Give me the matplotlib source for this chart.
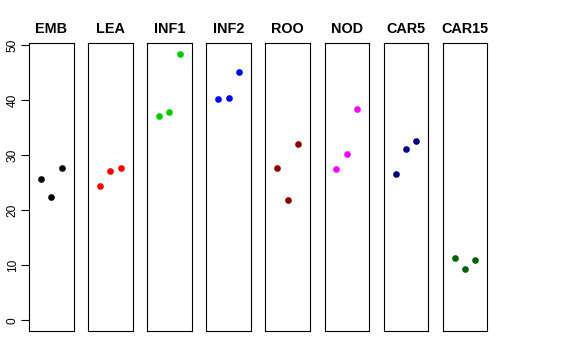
import matplotlib
matplotlib.use("Agg")
import matplotlib.pyplot as plt

tissues = ["EMB", "LEA", "INF1", "INF2", "ROO", "NOD", "CAR5", "CAR15"]
colors = ["#000000", "#FF0000", "#00CD00", "#0000FF", "#8B0000", "#FF00FF", "#000080", "#006400"]
emb = [25.7, 22.5, 27.7]
lea = [24.4, 27.2, 27.7]
inf1 = [37.2, 37.9, 48.5]
inf2 = [40.2, 40.5, 45.1]
roo = [27.7, 21.8, 32.0]
nod = [27.6, 30.2, 38.4]
car5 = [26.7, 31.1, 32.7]
car15 = [11.3, 9.3, 11.0]
series = [emb, lea, inf1, inf2, roo, nod, car5, car15]
reps = [1, 2, 3]
yticks = [0, 10, 20, 30, 40, 50]

plt.rcParams['font.family'] = ['Liberation Sans', 'DejaVu Sans']
W, H = 576, 360
fig = plt.figure(figsize=(W / 100, H / 100), dpi=100)

ymax = max(max(s) for s in series)
pad = 0.04 * ymax
for i, (name, col, vals) in enumerate(zip(tissues, colors, series)):
    left = 29 + 59.1 * i
    ax = fig.add_axes([left / W, (H - 331) / H, 44.5 / W, (331 - 43) / H])
    ax.plot(reps, vals, 'o', color=col, markersize=4.8, markeredgewidth=0)
    ax.set_xlim(-0.16, 4.16)
    ax.set_ylim(-pad, ymax + pad)
    ax.set_xticks([])
    for s in ax.spines.values():
        s.set_linewidth(0.8)
        s.set_color('black')
    ax.set_title(name, fontsize=10.4, fontweight='bold', pad=7)
    if i == 0:
        ax.set_yticks(yticks)
        ax.set_yticklabels([str(t) for t in yticks], rotation=90, va='center', fontsize=8.6)
        ax.tick_params(axis='y', length=5.5, width=0.8, pad=2)
    else:
        ax.set_yticks([])

fig.savefig("out.png", dpi=100)
